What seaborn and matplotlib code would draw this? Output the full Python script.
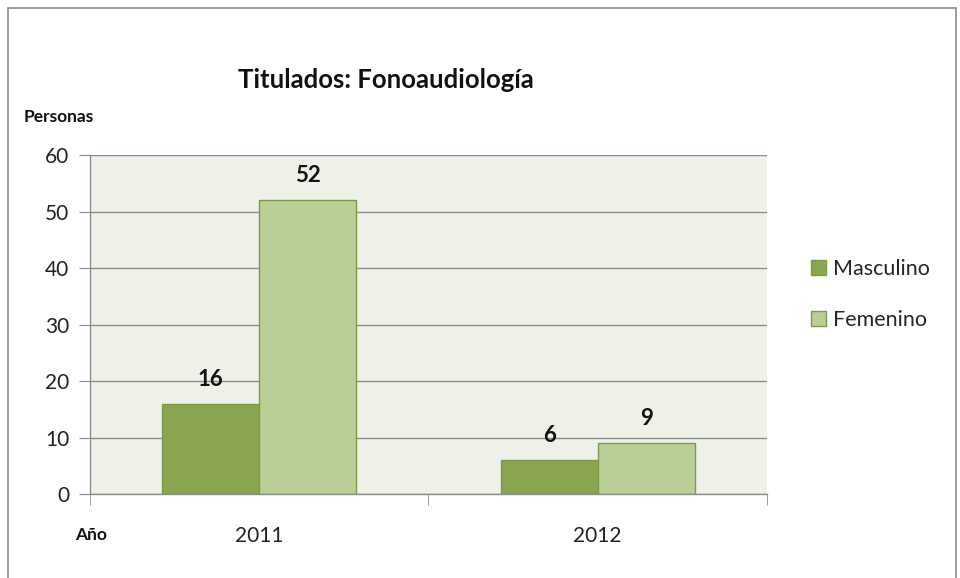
import pandas as pd
import matplotlib.pyplot as plt
import seaborn as sns
from matplotlib.patches import Rectangle

# datos
anios = ['2011', '2012']
masculino = [16, 6]
femenino = [52, 9]
sexos = ['Masculino', 'Femenino']

df = pd.DataFrame({
    'Año': anios * 2,
    'Sexo': [sexos[0]] * len(anios) + [sexos[1]] * len(anios),
    'Personas': masculino + femenino,
})

sns.set_style('white')
plt.rcParams['font.family'] = ['Lato', 'DejaVu Sans']

fig = plt.figure(figsize=(9.6, 5.78), dpi=100)
ax = fig.add_axes([0.09375, 0.1453, 0.7052, 0.5865])
ax.set_facecolor('#EEF1E8')

colores = {'Masculino': '#89A54E', 'Femenino': '#BACF96'}
sns.barplot(data=df, x='Año', y='Personas', hue='Sexo', hue_order=sexos,
            palette=colores, width=0.573, gap=0, edgecolor='#7E9B48',
            linewidth=1, saturation=1, ax=ax, legend=True)

# etiquetas de valor
for cont in ax.containers:
    ax.bar_label(cont, padding=10, fontsize=16, fontweight='bold', color='#111111')

ax.set_xlim(-0.5, 1.5)
ax.set_ylim(0, 60)
ax.set_yticks(range(0, 61, 10))
ax.yaxis.grid(True, color='#8C8C8C', linewidth=1)
ax.set_axisbelow(True)
ax.set_xlabel('')
ax.set_ylabel('')

for s in ['top', 'right']:
    ax.spines[s].set_visible(False)
for s in ['left', 'bottom']:
    ax.spines[s].set_color('#8C8C8C')
    ax.spines[s].set_linewidth(1)

ax.tick_params(axis='y', direction='out', length=8, color='#8C8C8C',
               labelsize=15, labelcolor='#222222', pad=7, left=True)
ax.tick_params(axis='x', which='major', length=0, labelsize=15,
               labelcolor='#222222', pad=23)
ax.set_xticks([-0.5, 0.5, 1.5], minor=True)
ax.tick_params(axis='x', which='minor', direction='out', length=8,
               color='#8C8C8C', bottom=True)

leg = ax.legend(loc='center left', bbox_to_anchor=(0.834, 0.491), bbox_transform=fig.transFigure,
                frameon=False, fontsize=15.5, labelspacing=1.45, handlelength=0.7,
                handleheight=0.7, handletextpad=0.3, borderpad=0)
for h in leg.legend_handles:
    h.set_edgecolor('#7E9B48')

fig.text(0.402, 0.862, 'Titulados: Fonoaudiología', ha='center', va='center',
         fontsize=18.5, fontweight='bold', color='#111111')
fig.text(0.025, 0.798, 'Personas', ha='left', va='center',
         fontsize=12.5, fontweight='bold', color='#111111')
fig.text(0.078, 0.0744, 'Año', ha='left', va='center',
         fontsize=12.5, fontweight='bold', color='#111111')

fig.patches.append(Rectangle((0.008, -0.01), 0.988, 0.996, transform=fig.transFigure,
                             fill=False, edgecolor='#8C8C8C', linewidth=1.2))

fig.savefig('out.png', dpi=100)
